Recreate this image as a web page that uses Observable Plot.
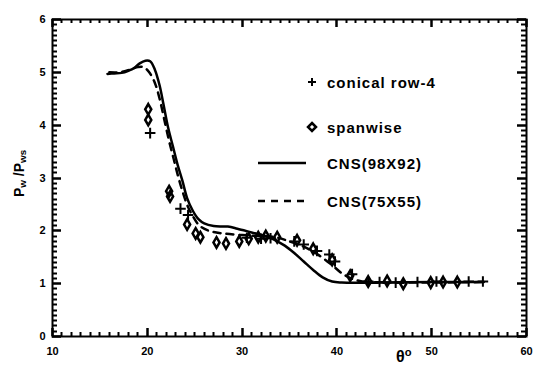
<!DOCTYPE html>
<html><head><meta charset="utf-8">
<script src="https://cdn.jsdelivr.net/npm/d3@7"></script>
<script src="https://cdn.jsdelivr.net/npm/@observablehq/plot@0.6"></script>
<style>
body{margin:0;background:#fff;}
.lab{position:absolute;white-space:nowrap;font-family:"Liberation Sans",Arial,sans-serif;font-weight:bold;color:#000;}
.lab sub{font-size:70%;vertical-align:-2px;}
.leg{position:absolute;font-size:15px;letter-spacing:1px;white-space:nowrap;font-family:"Liberation Sans",Arial,sans-serif;font-weight:bold;color:#000;}
svg.sym{position:absolute;overflow:visible;}
svg.ov{position:absolute;left:0;top:0;pointer-events:none;}
</style></head><body>
<script>
// theta (deg), Pw/Pws
const cns98 = [[15.8,4.97],[16.5,4.98],[17.3,4.99],[18.0,5.03],[18.6,5.08],[19.2,5.17],[19.8,5.22],[20.3,5.21],[20.8,5.05],[21.3,4.75],[21.7,4.4],[22.2,3.95],[22.7,3.6],[23.2,3.25],[23.7,2.95],[24.2,2.62],[24.8,2.38],[25.4,2.22],[26.0,2.14],[27.0,2.09],[28.5,2.08],[29.5,2.04],[31.0,1.97],[32.5,1.9],[33.5,1.82],[34.5,1.72],[35.5,1.58],[36.5,1.42],[37.5,1.26],[38.5,1.12],[39.5,1.04],[40.5,1.02],[45,1.02],[50,1.03],[55.5,1.03]];
const cns75 = [[16,5.0],[17,5.0],[18,5.04],[19,5.1],[19.6,5.1],[20.2,5.0],[20.8,4.8],[21.3,4.5],[21.8,4.1],[22.3,3.7],[22.8,3.35],[23.3,3.0],[23.8,2.7],[24.3,2.45],[24.9,2.25],[25.5,2.1],[26.5,2.0],[28,1.95],[30,1.92],[32,1.9],[33.5,1.88],[35,1.8],[36.5,1.7],[38,1.55],[39.5,1.35],[40.5,1.2],[41.5,1.1],[43,1.03],[46,1.02],[55.5,1.03]];
const conical = [[20.3,3.85],[23.5,2.42],[24.3,2.3],[30.5,1.87],[32.0,1.85],[33.0,1.86],[35.5,1.8],[36.5,1.74],[37.9,1.62],[39.2,1.55],[39.8,1.42],[41.6,1.18],[43.3,1.04],[44.5,1.03],[46.2,1.02],[48.5,1.03],[50.5,1.04],[53.9,1.04],[55.4,1.04]];
const spanwise = [[20.1,4.3],[20.1,4.1],[22.3,2.75],[22.4,2.65],[24.2,2.12],[25.1,1.95],[25.6,1.88],[27.3,1.78],[28.3,1.76],[29.7,1.8],[30.7,1.85],[31.7,1.88],[32.5,1.9],[33.7,1.88],[35.8,1.82],[37.5,1.66],[39.5,1.45],[41.4,1.15],[43.3,1.04],[45.3,1.05],[47.0,1.0],[49.9,1.02],[51.2,1.03],[52.7,1.03]];
const xMajor = [10,20,30,40,50,60];
const yMajor = [0,1,2,3,4,5,6];
const xMinor = d3.range(10,60.01,1);
const yMinor = d3.range(0,60.01,1).map(d=>d/10);

const W = 534, H = 366, ML = 52, MR = 8, MT = 19, MB = 30;
const FF = "Liberation Sans, Arial, sans-serif";
const chart = Plot.plot({
  width: W, height: H,
  marginLeft: ML, marginRight: MR, marginTop: MT, marginBottom: MB,
  x: {domain: [10,60]},
  y: {domain: [0,6]},
  marks: [
    Plot.axisX(xMajor, {anchor: "bottom", tickSize: 0, tickPadding: 11, label: null, tickFormat: "d", fontSize: 11, fontWeight: "bold", fontFamily: FF, fill: "#000"}),
    Plot.axisY(yMajor, {anchor: "left", tickSize: 0, tickPadding: 7, label: null, tickFormat: "d", fontSize: 11, fontWeight: "bold", fontFamily: FF, fill: "#000"}),
    Plot.frame({stroke: "#000", strokeWidth: 2}),
    Plot.line(cns98, {x: d=>d[0], y: d=>d[1], stroke: "#000", strokeWidth: 2.5, curve: "catmull-rom"}),
    Plot.line(cns75, {x: d=>d[0], y: d=>d[1], stroke: "#000", strokeWidth: 2.5, strokeDasharray: "7,6", curve: "catmull-rom"}),
    Plot.dot(spanwise, {x: d=>d[0], y: d=>d[1], symbol: "diamond", r: 3.2, stroke: "#000", strokeWidth: 2.5, fill: "none"}),
    Plot.dot(conical, {x: d=>d[0], y: d=>d[1], symbol: "plus", r: 3.5, stroke: "#000", strokeWidth: 2})
  ]
});
document.body.appendChild(chart);

// inward tick marks on all four sides, placed with the chart's own scales
const sx = chart.scale("x"), sy = chart.scale("y");
const ov = d3.select(document.body).append("svg").attr("class", "ov").attr("width", W).attr("height", H);
const major = v => xMajor.includes(v);
const majorY = v => yMajor.some(m => Math.abs(m - v) < 1e-9);
xMinor.forEach(v => {
  const px = Math.round(sx.apply(v)) + 0.5, L = major(v) ? 8 : 4, sw = major(v) ? 2.5 : 2;
  ov.append("line").attr("x1", px).attr("x2", px).attr("y1", H - MB).attr("y2", H - MB - L).attr("stroke", "#000").attr("stroke-width", sw);
  ov.append("line").attr("x1", px).attr("x2", px).attr("y1", MT).attr("y2", MT + L).attr("stroke", "#000").attr("stroke-width", sw);
});
yMinor.forEach(v => {
  const py = Math.round(sy.apply(v)) + 0.5, L = majorY(v) ? 9 : 5, sw = majorY(v) ? 2.5 : 2;
  ov.append("line").attr("y1", py).attr("y2", py).attr("x1", ML).attr("x2", ML + L).attr("stroke", "#000").attr("stroke-width", sw);
  ov.append("line").attr("y1", py).attr("y2", py).attr("x1", W - MR).attr("x2", W - MR - L).attr("stroke", "#000").attr("stroke-width", sw);
});

function addLab(html, x, y, size, rot) {
  const d = document.createElement("div");
  d.className = "lab"; d.innerHTML = html; d.style.fontSize = size + "px";
  document.body.appendChild(d);
  const w = d.offsetWidth, h = d.offsetHeight;
  d.style.left = (x - w/2) + "px"; d.style.top = (y - h/2) + "px";
  if (rot) d.style.transform = "rotate(" + rot + "deg)";
}
addLab("P<sub>w</sub> /P<sub>ws</sub>", 19, 173, 14, -90);
addLab("θ<sup style='font-size:70%'>o</sup>", 404, 356, 16, 0);

function leg(text, y) {
  const d = document.createElement("div");
  d.className = "leg"; d.textContent = text;
  document.body.appendChild(d);
  d.style.left = "327px"; d.style.top = (y - d.offsetHeight/2) + "px";
}
const ns = "http://www.w3.org/2000/svg";
function sym(inner, x, y, w, h) {
  const s = document.createElementNS(ns, "svg");
  s.setAttribute("class","sym"); s.setAttribute("width", w); s.setAttribute("height", h);
  s.style.left = x + "px"; s.style.top = y + "px";
  s.innerHTML = inner; document.body.appendChild(s);
}
sym('<path d="M0,-4V4M-4,0H4" stroke="#000" stroke-width="2" transform="translate(5,5)"/>', 307, 77, 10, 10);
leg("conical row-4", 82);
sym('<path d="M0,-4L4,0L0,4L-4,0Z" stroke="#000" stroke-width="2.5" fill="none" transform="translate(5,5)"/>', 307, 122, 10, 10);
leg("spanwise", 127);
sym('<line x1="0" y1="3" x2="48" y2="3" stroke="#000" stroke-width="2.5"/>', 258, 160, 48, 6);
leg("CNS(98X92)", 163);
sym('<line x1="0" y1="3" x2="48" y2="3" stroke="#000" stroke-width="2.5" stroke-dasharray="7,6"/>', 258, 198, 48, 6);
leg("CNS(75X55)", 201);
</script></body></html>
